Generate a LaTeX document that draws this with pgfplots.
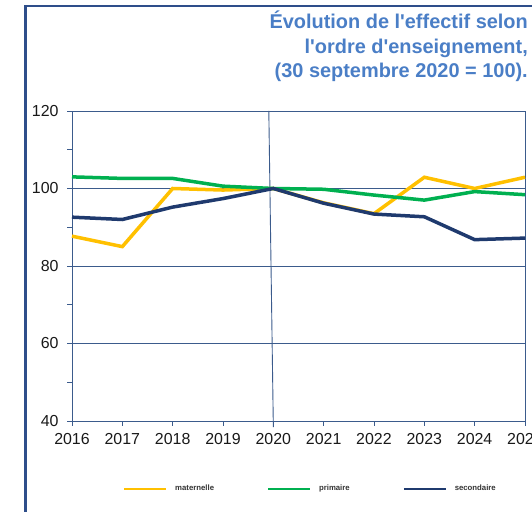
\documentclass[border=0pt]{standalone}
\usepackage{pgfplots}
\pgfplotsset{compat=1.18}
\usepackage{fontspec}
\setmainfont{Liberation Sans}
\definecolor{axc}{HTML}{3B5B8C}
\definecolor{framec}{HTML}{2E4E8A}
\definecolor{titc}{HTML}{4A7EC6}
\definecolor{cmat}{HTML}{FFC000}
\definecolor{cpri}{HTML}{00B050}
\definecolor{csec}{HTML}{1F3A6E}
\begin{document}
\begin{tikzpicture}[x=1bp,y=1bp]
\useasboundingbox (0,0) rectangle (532,512);
\draw[framec, line width=2.5bp] (25.5,-20) -- (25.5,506) -- (560,506);
\node[anchor=base east, font=\fontsize{20}{20}\selectfont\bfseries, text=titc, inner sep=0pt] at (528,483) {Évolution de l\textquotesingle effectif selon};
\node[anchor=base east, font=\fontsize{20}{20}\selectfont\bfseries, text=titc, inner sep=0pt] at (528,458.5) {l\textquotesingle ordre d\textquotesingle enseignement,};
\node[anchor=base east, font=\fontsize{20}{20}\selectfont\bfseries, text=titc, inner sep=0pt] at (528,434) {(30 septembre 2020 = 100).};
\begin{axis}[
  at={(72bp,91bp)}, anchor=south west,
  scale only axis, width=453bp, height=310bp,
  xmin=2016, xmax=2025, ymin=40, ymax=120,
  xtick={2016,2017,...,2025},
  ytick={40,60,80,100,120},
  minor ytick={50,70,90,110},
  ymajorgrids,
  grid style={axc, line width=0.8bp},
  axis line style={axc, line width=0.8bp},
  every tick/.style={axc, line width=0.8bp},
  tick align=outside,
  xtick pos=bottom, ytick pos=left,
  major tick length=5bp, minor tick length=5bp,
  /pgf/number format/1000 sep={},
  /pgf/number format/assume math mode=true,
  tick label style={font=\fontsize{16}{16}\selectfont, text=black!90},
  yticklabel style={xshift=-5bp},
  xticklabel style={yshift=-4bp},
  clip=false,
  legend columns=3,
  legend style={at={(0.1126,-0.219)}, anchor=west, draw=none, fill=none,
    inner sep=0pt, font=\fontsize{7.8}{7.8}\selectfont\bfseries, text=black!80,
    nodes={inner sep=0pt},
    /tikz/every odd column/.append style={column sep=8bp},
    /tikz/every even column/.append style={column sep=53bp}},
  legend image code/.code={\draw[#1, line width=2bp] (0bp,0bp) -- (42bp,0bp);},
]
\addplot[axc, line width=0.9bp, forget plot] coordinates {(2019.91,120) (2020,38.4)};
\addplot[cmat, line width=3.5bp] coordinates {
(2016,87.7) (2017,85.0) (2018,100.0) (2019,99.6) (2020,100.0)
(2021,96.3) (2022,93.5) (2023,102.9) (2024,100.0) (2025,102.9)};
\addlegendentry{maternelle}
\addplot[cpri, line width=3.5bp] coordinates {
(2016,103.0) (2017,102.6) (2018,102.6) (2019,100.6) (2020,100.0)
(2021,99.8) (2022,98.3) (2023,97.0) (2024,99.2) (2025,98.4)};
\addlegendentry{primaire}
\addplot[csec, line width=3.5bp] coordinates {
(2016,92.6) (2017,92.0) (2018,95.2) (2019,97.4) (2020,100.0)
(2021,96.2) (2022,93.4) (2023,92.7) (2024,86.8) (2025,87.2)};
\addlegendentry{secondaire}
\end{axis}
\end{tikzpicture}
\end{document}
